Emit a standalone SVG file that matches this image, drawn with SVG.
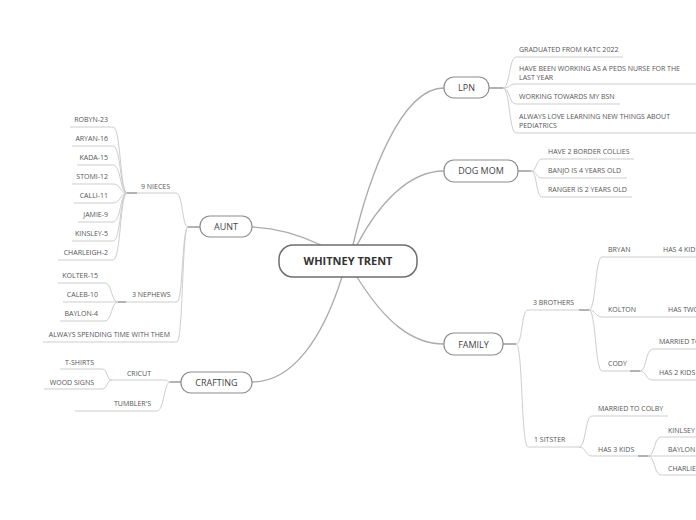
<svg xmlns="http://www.w3.org/2000/svg" width="696" height="520" viewBox="0 0 696 520">
<style>
.bg{fill:#fff}
.main{fill:none;stroke:#ababab;stroke-width:1.3;stroke-linecap:round}
.c{fill:none;stroke:#cdcdcd;stroke-width:1}
.stub{fill:none;stroke:#b3b3b3;stroke-width:2}
.ul{fill:none;stroke:#cdcdcd;stroke-width:1}
.box{fill:#fff;stroke:#8c8c8c;stroke-width:1.2}
.cbox{fill:#fff;stroke:#6e6e6e;stroke-width:1.5}
text{font-family:"Open Sans","DejaVu Sans",sans-serif}
.t{font-size:7px;fill:#555}
.e{text-anchor:end}
.nt{font-size:9px;fill:#444;text-anchor:middle}
.ct{font-size:11px;font-weight:bold;fill:#333;text-anchor:middle}
</style>
<rect class="bg" x="0" y="0" width="696" height="520"/>
<g id="connectors">
<path class="main" d="M353 245 C368 180 400 88 444 88"/>
<path class="main" d="M357 245 C378 205 408 171 444 171"/>
<path class="main" d="M321 245 C300 235 278 228 252 227"/>
<path class="main" d="M342 277 C322 340 292 382 252 382"/>
<path class="main" d="M357 277 C385 322 412 344 444 344"/>
<path class="stub" d="M489 88 L503 88"/>
<path class="c" d="M503 88 C510 88 509 57 516 57"/>
<path class="c" d="M503 88 C510 88 509 84 516 84"/>
<path class="c" d="M503 88 C510 88 509 104 516 104"/>
<path class="c" d="M503 88 C510 88 509 133 516 133"/>
<path class="stub" d="M518 171 L531 171"/>
<path class="c" d="M531 171 C537 171 536 159 542 159"/>
<path class="c" d="M531 171 C537 171 536 178 542 178"/>
<path class="c" d="M531 171 C537 171 536 197 542 197"/>
<path class="stub" d="M200 227 L188 227"/>
<path class="c" d="M188 227 C182 227 183 193 176 193"/>
<path class="c" d="M188 227 C182 227 183 302 177 302"/>
<path class="c" d="M188 227 C182 227 183 342 177 342"/>
<path class="stub" d="M127 193 L137 193"/>
<path class="c" d="M127 193 C120 193 121 127 113 127"/>
<path class="c" d="M127 193 C120 193 121 146 113 146"/>
<path class="c" d="M127 193 C120 193 121 165 113 165"/>
<path class="c" d="M127 193 C120 193 121 184 113 184"/>
<path class="c" d="M127 193 C120 193 121 203 113 203"/>
<path class="c" d="M127 193 C120 193 121 222 113 222"/>
<path class="c" d="M127 193 C120 193 121 241 113 241"/>
<path class="c" d="M127 193 C120 193 121 260 113 260"/>
<path class="stub" d="M118 302 L126 302"/>
<path class="c" d="M118 302 C111 302 112 283 105 283"/>
<path class="c" d="M118 302 L105 302"/>
<path class="c" d="M118 302 C111 302 112 321 105 321"/>
<path class="stub" d="M181 382 L170 382"/>
<path class="c" d="M170 382 C167 382 168 380 165 380"/>
<path class="c" d="M170 382 C164 382 164 411 157 411"/>
<path class="c" d="M112 380 C106 380 108 369 102 369"/>
<path class="c" d="M112 380 C106 380 108 389 102 389"/>
<path class="stub" d="M503 344 L516 344"/>
<path class="c" d="M516 344 C523 344 521 310 528 310"/>
<path class="c" d="M516 344 C523 344 521 447 528 447"/>
<path class="stub" d="M579 310 L589 310"/>
<path class="c" d="M589 310 C596 310 595 257 602 257"/>
<path class="c" d="M589 310 C596 310 595 317 602 317"/>
<path class="c" d="M589 310 C596 310 595 371 602 371"/>
<path class="stub" d="M630 371 L640 371"/>
<path class="c" d="M640 371 C647 371 645 349 653 349"/>
<path class="c" d="M640 371 C647 371 645 380 653 380"/>
<path class="c" d="M579 447 C586 447 585 416 592 416"/>
<path class="c" d="M579 447 C586 447 585 456 592 456"/>
<path class="stub" d="M638 456 L648 456"/>
<path class="c" d="M648 456 C655 456 654 437 661 437"/>
<path class="c" d="M648 456 L661 456"/>
<path class="c" d="M648 456 C655 456 654 475 661 475"/>
</g>
<g id="center"><rect class="cbox" x="279" y="245" width="138" height="32" rx="14"/><text class="ct" x="348" y="265">WHITNEY TRENT</text></g>
<g id="lpn"><rect class="box" x="444" y="77" width="45" height="21" rx="10"/><text class="nt" x="466.5" y="91.2">LPN</text></g>
<g id="lpn-1"><path class="ul" d="M516 57 H623"/><text class="t" x="519" y="51.5">GRADUATED FROM KATC 2022</text></g>
<g id="lpn-2"><path class="ul" d="M516 84 H696"/><text class="t" x="519" y="70.5">HAVE BEEN WORKING AS A PEDS NURSE FOR THE</text><text class="t" x="519" y="80">LAST YEAR</text></g>
<g id="lpn-3"><path class="ul" d="M516 104 H620"/><text class="t" x="519" y="99">WORKING TOWARDS MY BSN</text></g>
<g id="lpn-4"><path class="ul" d="M516 133 H696"/><text class="t" x="519" y="118.5">ALWAYS LOVE LEARNING NEW THINGS ABOUT</text><text class="t" x="519" y="128">PEDIATRICS</text></g>
<g id="dogmom"><rect class="box" x="444" y="160" width="74" height="22" rx="10"/><text class="nt" x="481" y="174.2">DOG MOM</text></g>
<g id="dog-1"><path class="ul" d="M542 159 H634"/><text class="t" x="548" y="153.5">HAVE 2 BORDER COLLIES</text></g>
<g id="dog-2"><path class="ul" d="M542 178 H627"/><text class="t" x="548" y="172.5">BANJO IS 4 YEARS OLD</text></g>
<g id="dog-3"><path class="ul" d="M542 197 H632"/><text class="t" x="548" y="191.5">RANGER IS 2 YEARS OLD</text></g>
<g id="aunt"><rect class="box" x="200" y="216" width="52" height="21" rx="10"/><text class="nt" x="226" y="230">AUNT</text></g>
<g id="nieces"><path class="ul" d="M137 193 H176"/><text class="t" x="141" y="188.5">9 NIECES</text></g>
<g id="niece-1"><path class="ul" d="M70 127 H113"/><text class="t e" x="108" y="122">ROBYN-23</text></g>
<g id="niece-2"><path class="ul" d="M72 146 H113"/><text class="t e" x="108" y="141">ARYAN-16</text></g>
<g id="niece-3"><path class="ul" d="M77 165 H113"/><text class="t e" x="108" y="160">KADA-15</text></g>
<g id="niece-4"><path class="ul" d="M72 184 H113"/><text class="t e" x="108" y="179">STOMI-12</text></g>
<g id="niece-5"><path class="ul" d="M74 203 H113"/><text class="t e" x="108" y="198">CALLI-11</text></g>
<g id="niece-6"><path class="ul" d="M78 222 H113"/><text class="t e" x="108" y="217">JAMIE-9</text></g>
<g id="niece-7"><path class="ul" d="M72 241 H113"/><text class="t e" x="108" y="236">KINSLEY-5</text></g>
<g id="niece-8"><path class="ul" d="M58 260 H113"/><text class="t e" x="108" y="255">CHARLEIGH-2</text></g>
<g id="nephews"><path class="ul" d="M126 302 H177"/><text class="t" x="132" y="297">3 NEPHEWS</text></g>
<g id="nephew-1"><path class="ul" d="M58 283 H105"/><text class="t e" x="98" y="278">KOLTER-15</text></g>
<g id="nephew-2"><path class="ul" d="M63 302 H105"/><text class="t e" x="98" y="297">CALEB-10</text></g>
<g id="nephew-3"><path class="ul" d="M60 321 H105"/><text class="t e" x="98" y="316">BAYLON-4</text></g>
<g id="always"><path class="ul" d="M43 342 H177"/><text class="t e" x="170" y="337">ALWAYS SPENDING TIME WITH THEM</text></g>
<g id="crafting"><rect class="box" x="181" y="372" width="71" height="21" rx="10"/><text class="nt" x="216.5" y="385.7">CRAFTING</text></g>
<g id="cricut"><path class="ul" d="M112 380 H165"/><text class="t e" x="151" y="375.5">CRICUT</text></g>
<g id="tshirts"><path class="ul" d="M60 369 H102"/><text class="t e" x="94" y="365">T-SHIRTS</text></g>
<g id="woodsigns"><path class="ul" d="M44 389 H102"/><text class="t e" x="94" y="384.5">WOOD SIGNS</text></g>
<g id="tumblers"><path class="ul" d="M75 411 H157"/><text class="t e" x="151" y="406">TUMBLER'S</text></g>
<g id="family"><rect class="box" x="444" y="333" width="59" height="22" rx="10"/><text class="nt" x="473.5" y="347.5">FAMILY</text></g>
<g id="brothers"><path class="ul" d="M528 310 H579"/><text class="t" x="533" y="305">3 BROTHERS</text></g>
<g id="bryan"><path class="ul" d="M602 257 H652"/><text class="t" x="608" y="251.5">BRYAN</text></g>
<g id="bryan-kids"><path class="ul" d="M652 257 H696"/><text class="t" x="663" y="251.5">HAS 4 KIDS</text></g>
<g id="kolton"><path class="ul" d="M602 317 H660"/><text class="t" x="608" y="312">KOLTON</text></g>
<g id="kolton-kids"><path class="ul" d="M660 317 H696"/><text class="t" x="668" y="312">HAS TWO</text></g>
<g id="cody"><path class="ul" d="M602 371 H630"/><text class="t" x="608" y="366">CODY</text></g>
<g id="cody-married"><path class="ul" d="M653 349 H696"/><text class="t" x="659" y="344">MARRIED TO</text></g>
<g id="cody-kids"><path class="ul" d="M653 380 H696"/><text class="t" x="659" y="375">HAS 2 KIDS</text></g>
<g id="sister"><path class="ul" d="M528 447 H579"/><text class="t" x="534" y="442">1 SITSTER</text></g>
<g id="sister-married"><path class="ul" d="M592 416 H668"/><text class="t" x="598" y="411">MARRIED TO COLBY</text></g>
<g id="sister-kids"><path class="ul" d="M592 456 H638"/><text class="t" x="598" y="451.5">HAS 3 KIDS</text></g>
<g id="kid-kinlsey"><path class="ul" d="M661 437 H696"/><text class="t" x="668" y="432.5">KINLSEY</text></g>
<g id="kid-baylon"><path class="ul" d="M661 456 H696"/><text class="t" x="668" y="451.5">BAYLON</text></g>
<g id="kid-charlie"><path class="ul" d="M661 475 H696"/><text class="t" x="668" y="470.5">CHARLIE</text></g>
</svg>
